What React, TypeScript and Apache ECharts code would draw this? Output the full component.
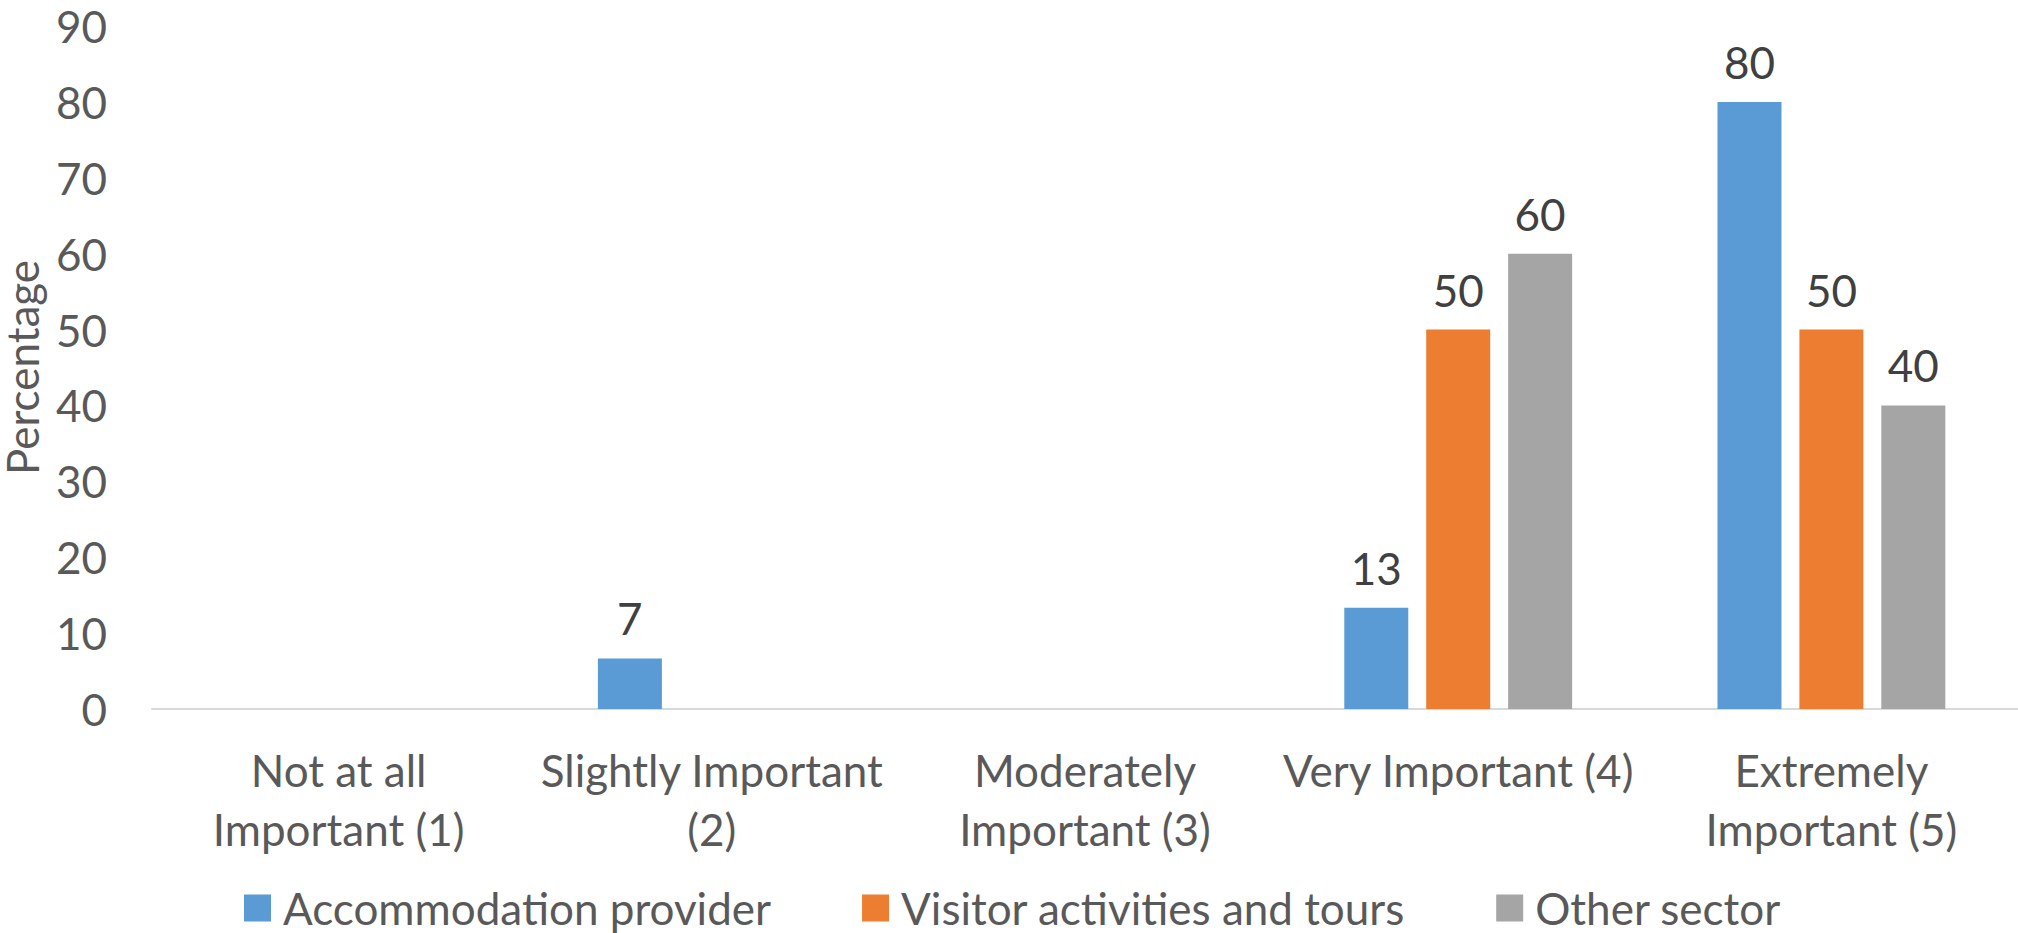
import React, { useEffect, useRef } from "react";
import * as echarts from "echarts";

const categories = [
  "Not at all\nImportant (1)",
  "Slightly Important\n(2)",
  "Moderately\nImportant (3)",
  "Very Important (4)",
  "Extremely\nImportant (5)",
];
const accommodation = [0, 6.67, 0, 13.33, 80];
const visitorActivities = [0, 0, 0, 50, 50];
const otherSector = [0, 0, 0, 60, 40];
const seriesNames = ["Accommodation provider", "Visitor activities and tours", "Other sector"];
const colors = ["#5B9BD5", "#ED7D31", "#A5A5A5"];

const FONT = "Lato, 'Open Sans', sans-serif";
// square marker with transparent spacing on its right
const LEGEND_ICON = "path://M0,0H27V27H0Z M34,0V27";

export default function App() {
  const ref = useRef<HTMLDivElement>(null);
  useEffect(() => {
    if (!ref.current) return;
    const chart = echarts.init(ref.current, null, { renderer: "svg" });
    const label = {
      show: true,
      position: "top" as const,
      distance: 18,
      fontFamily: FONT,
      fontSize: 44,
      color: "#404040",
      formatter: (p: any) => (p.value ? String(Math.round(p.value)) : ""),
    };
    const mk = (name: string, data: number[], color: string) => ({
      name,
      type: "bar" as const,
      data,
      barWidth: 64,
      barGap: "28%",
      itemStyle: { color },
      label,
    });
    chart.setOption({
      animation: false,
      backgroundColor: "#ffffff",
      textStyle: { fontFamily: FONT },
      grid: {
        left: 152,
        right: 0,
        top: 26,
        bottom: 224,
        containLabel: false,
        outerBoundsMode: "none",
      },
      legend: {
        data: seriesNames,
        left: 244,
        top: 886,
        padding: 0,
        icon: LEGEND_ICON,
        itemWidth: 34,
        itemHeight: 27,
        itemGap: 91,
        itemStyle: { borderWidth: 0 },
        textStyle: { fontFamily: FONT, fontSize: 44, color: "#595959" },
      },
      xAxis: {
        type: "category",
        data: categories,
        axisTick: { show: false },
        axisLine: { lineStyle: { color: "#D9D9D9", width: 2 } },
        axisLabel: {
          interval: 0,
          margin: 31,
          lineHeight: 59,
          fontFamily: FONT,
          fontSize: 44,
          color: "#595959",
        },
      },
      yAxis: {
        type: "value",
        min: 0,
        max: 90,
        interval: 10,
        splitLine: { show: false },
        axisLine: { show: false },
        axisTick: { show: false },
        axisLabel: { margin: 45, fontFamily: FONT, fontSize: 44, color: "#595959" },
        name: "Percentage",
        nameLocation: "middle",
        nameGap: 108,
        nameMoveOverlap: false,
        nameTextStyle: { fontFamily: FONT, fontSize: 44, lineHeight: 44, color: "#595959" },
      },
      series: [
        mk(seriesNames[0], accommodation, colors[0]),
        mk(seriesNames[1], visitorActivities, colors[1]),
        mk(seriesNames[2], otherSector, colors[2]),
      ],
    });
    return () => chart.dispose();
  }, []);
  return (
    <div
      ref={ref}
      style={{ position: "fixed", left: 0, top: 0, width: 2018, height: 933, background: "#fff" }}
    />
  );
}
